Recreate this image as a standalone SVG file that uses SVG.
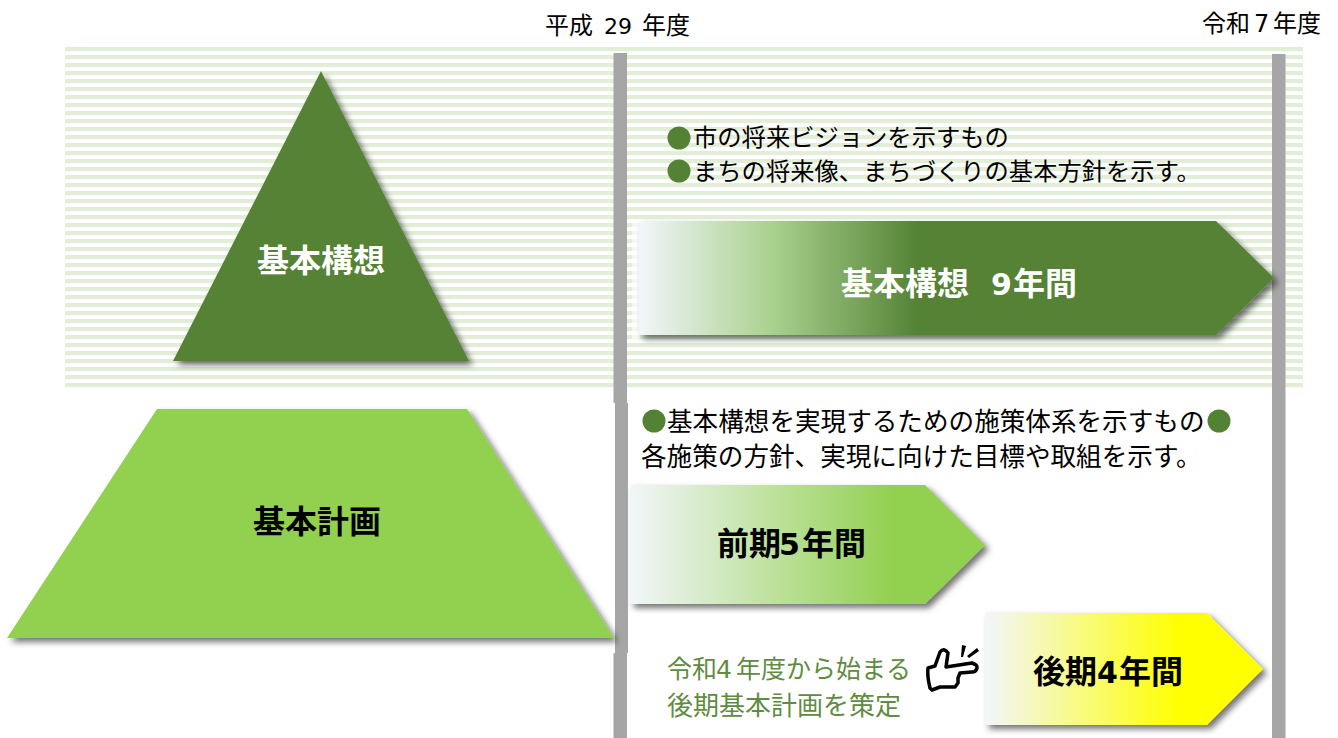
<svg xmlns="http://www.w3.org/2000/svg" width="1338" height="738" viewBox="0 0 1338 738">
<style>
text{font-family:"Noto Sans CJK JP","Liberation Sans",sans-serif}
.h{font-size:24px;fill:#000}
.t1{font-size:24.3px;fill:#000}
.t2{font-size:25.6px;fill:#000}
.g{fill:#5f8c42}
.g1{font-size:25px}
.g2{font-size:26px}
.b{font-size:32px;font-weight:700}
.d{font-family:"DejaVu Sans",sans-serif}
.db{font-family:"DejaVu Sans",sans-serif;font-size:30px;font-weight:700}
.dot{fill:#548235}
.bar{fill:#a6a6a6}
</style>
<defs>
<pattern id="st" width="10" height="8" patternUnits="userSpaceOnUse" y="47"><rect width="10" height="4.200" fill="#e3eed8"/></pattern>
<filter id="sh" x="-10%" y="-10%" width="125%" height="125%"><feDropShadow dx="4" dy="4" stdDeviation="3" flood-color="#000" flood-opacity=".55"/></filter>
<linearGradient id="g1"><stop offset="0" stop-color="#f2f6fa"/><stop offset=".21" stop-color="#a9d18e"/><stop offset=".44" stop-color="#548235"/><stop offset="1" stop-color="#548235"/></linearGradient>
<linearGradient id="g2"><stop offset="0" stop-color="#f2f6fa"/><stop offset=".74" stop-color="#92d050"/><stop offset="1" stop-color="#92d050"/></linearGradient>
<linearGradient id="g3"><stop offset="0" stop-color="#f2f6fa"/><stop offset=".7" stop-color="#ffff00"/><stop offset="1" stop-color="#ffff00"/></linearGradient>
</defs>
<rect id="background-stripes" x="65" y="47" width="1238" height="341" fill="url(#st)"/>
<g id="connectors">
<rect class="bar" x="613.500" y="53" width="13.500" height="350"/>
<rect class="bar" x="615" y="403" width="13" height="250"/>
<rect class="bar" x="613.500" y="653" width="13.500" height="85"/>
<rect class="bar" x="1272" y="54" width="13.500" height="684"/>
</g>
<g id="label-h29"><text class="h" y="34"><tspan x="545">平成 </tspan><tspan class="d" x="604" font-size="22">29 </tspan><tspan x="642">年度</tspan></text></g>
<g id="label-r7"><text class="h" y="32"><tspan x="1202">令和</tspan><tspan class="d" x="1254">7</tspan><tspan x="1273">年度</tspan></text></g>
<g id="triangle-kihon-koso">
<polygon points="321,71 469,361 173,361" fill="#548235" filter="url(#sh)"/>
<text class="b" x="321" y="272" text-anchor="middle" fill="#fff">基本構想</text>
</g>
<g id="trapezoid-kihon-keikaku">
<polygon points="157,409 467,409 614,638 7,638" fill="#92d050" filter="url(#sh)"/>
<text class="b" x="317" y="533" text-anchor="middle" fill="#000">基本計画</text>
</g>
<g id="desc-koso">
<circle class="dot" cx="679" cy="138" r="11.500"/><text class="t1" x="693" y="146">市の将来ビジョンを示すもの</text>
<circle class="dot" cx="679" cy="171" r="11.500"/><text class="t1" x="693" y="180">まちの将来像、まちづくりの基本方針を示す。</text>
</g>
<rect x="632" y="219" width="8" height="120" fill="#fff" opacity=".6"/>
<g id="arrow-koso">
<polygon points="639,221 1216,221 1274,278 1216,335 639,335" fill="url(#g1)" filter="url(#sh)"/>
<text class="b" y="295" fill="#fff"><tspan x="841">基本構想</tspan><tspan class="db" x="991">9</tspan><tspan x="1013">年間</tspan></text>
</g>
<g id="desc-keikaku">
<circle class="dot" cx="654" cy="421" r="11.500"/><text class="t2" x="667" y="431">基本構想を実現するための施策体系を示すもの</text>
<circle class="dot" cx="1219" cy="421" r="11.500"/>
<text class="t2" x="641" y="466">各施策の方針、実現に向けた目標や取組を示す。</text>
</g>
<g id="arrow-zenki">
<polygon points="630,485 925,485 985,545 925,604 630,604" fill="url(#g2)" filter="url(#sh)"/>
<text class="b" y="555"><tspan x="717">前期</tspan><tspan class="db" x="779">5</tspan><tspan x="802">年間</tspan></text>
</g>
<g id="note">
<text class="g g1" y="678"><tspan x="667">令和</tspan><tspan class="d" x="716">4</tspan><tspan x="736">年度から始まる</tspan></text>
<text class="g g2" x="667" y="715">後期基本計画を策定</text>
</g>
<g id="pointing-hand">
<path d="M930,688 Q927,676 928,668 L935,666 L940,652 Q944,647 948,653 L946,667 L972,663 Q978,665 977,668 Q976,672 972,672 L960,673 L958,678 L958,683 L955,687 L940,687 L932,690 Z" fill="#fff" stroke="#000" stroke-width="3.500" stroke-linejoin="round"/>
<polygon points="962,645 966,646 963,657 961,657" fill="#000"/>
<polygon points="977,648 979,651 969,658 967,656" fill="#000"/>
</g>
<g id="arrow-koki">
<polygon points="985,613 1207,613 1263,669 1207,725 985,725" fill="url(#g3)" filter="url(#sh)"/>
<text class="b" y="683"><tspan x="1033">後期</tspan><tspan class="db" x="1097">4</tspan><tspan x="1119">年間</tspan></text>
</g>
</svg>
